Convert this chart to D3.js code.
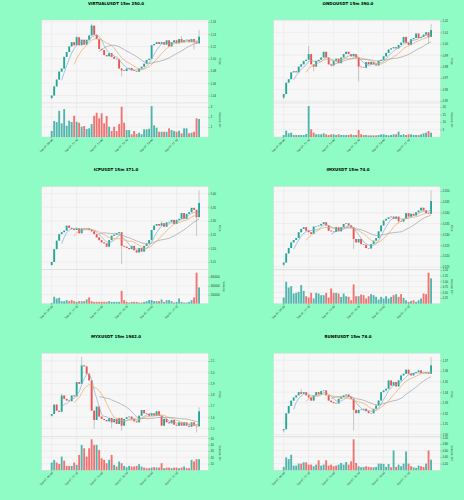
<!DOCTYPE html>
<html>
<head>
<meta charset="utf-8">
<script src="https://cdn.jsdelivr.net/npm/d3@7"></script>
<style>
  body { margin: 0; background: #8efcc4; }
  svg { display: block; font-family: "DejaVu Sans", sans-serif; }
</style>
</head>
<body>
<div class="chart"></div>
<script>
// ---- data (15m candles) ----
const xTickIdx = [0, 10, 20, 30, 40, 50];
const xTickLabels = ["Sep 07, 09:00", "Sep 07, 11:30", "Sep 07, 14:00", "Sep 07, 16:30", "Sep 07, 19:00", "Sep 07, 21:30"];
const maPeriods = [5, 10, 20];

const virtualOpen0 = 1.036;
const virtualClose = [1.040,1.055,1.066,1.079,1.084,1.103,1.111,1.120,1.127,1.122,
  1.135,1.122,1.131,1.123,1.131,1.138,1.154,1.139,1.132,1.116,
  1.114,1.106,1.104,1.109,1.103,1.100,1.099,1.084,1.081,1.080,
  1.084,1.085,1.081,1.080,1.079,1.084,1.087,1.092,1.098,1.100,
  1.122,1.124,1.127,1.124,1.127,1.123,1.130,1.120,1.127,1.130,
  1.125,1.132,1.127,1.130,1.131,1.127,1.132,1.127,1.125,1.136];
const virtualVolume = [60000,160000,150000,263000,137000,280000,113000,163000,150000,213000,
  153000,143000,103000,110000,80000,87000,130000,213000,243000,187000,
  237000,137000,210000,103000,60000,103000,60000,130000,303000,143000,
  70000,70000,27000,60000,30000,43000,27000,77000,77000,83000,
  310000,117000,93000,53000,53000,53000,53000,87000,70000,60000,
  53000,63000,37000,87000,87000,37000,43000,53000,187000,180000];
const virtualHighs = [[10,1.137],[16,1.157],[52,1.137],[59,1.147]];
const virtualLows = [[0,1.034],[28,1.071],[57,1.115]];
const virtualTicks = [1.04,1.06,1.08,1.10,1.12,1.14,1.16];

const ondoOpen0 = 0.953;
const ondoClose = [0.956,0.966,0.969,0.975,0.976,0.975,0.980,0.982,0.985,0.986,
  0.991,0.982,0.980,0.985,0.986,0.988,0.993,0.988,0.982,0.981,
  0.985,0.987,0.983,0.988,0.991,0.993,0.991,0.989,0.991,0.988,
  0.980,0.9795,0.979,0.984,0.982,0.984,0.982,0.981,0.985,0.986,
  0.989,0.992,0.995,0.996,0.997,0.996,0.999,1.001,1.006,1.001,
  0.999,1.004,1.005,1.009,1.005,1.006,1.008,1.010,1.006,1.012];
const ondoVolume = [133000,422000,244000,289000,133000,133000,133000,133000,133000,200000,
  2060000,511000,289000,178000,178000,178000,244000,178000,133000,178000,
  178000,133000,178000,133000,133000,133000,133000,178000,133000,133000,
  466000,178000,133000,133000,111000,111000,111000,111000,133000,178000,
  178000,133000,111000,133000,178000,178000,355000,133000,178000,133000,
  178000,178000,133000,133000,133000,178000,244000,289000,400000,289000];
const ondoHighs = [[10,0.998],[59,1.0175]];
const ondoLows = [[0,0.9515],[12,0.976],[30,0.967],[58,1.000]];
const ondoTicks = [0.95,0.96,0.97,0.98,0.99,1.00,1.01,1.02];

const icpOpen0 = 5.139;
const icpClose = [5.150,5.197,5.228,5.252,5.259,5.265,5.283,5.275,5.271,5.267,
  5.273,5.255,5.273,5.271,5.273,5.267,5.262,5.252,5.240,5.230,
  5.222,5.218,5.206,5.230,5.246,5.250,5.255,5.259,5.209,5.206,
  5.201,5.197,5.209,5.193,5.185,5.201,5.188,5.209,5.218,5.230,
  5.267,5.283,5.289,5.283,5.292,5.279,5.295,5.297,5.304,5.289,
  5.304,5.308,5.329,5.308,5.326,5.332,5.348,5.341,5.314,5.366];
const icpVolume = [15000,154000,115000,131000,54000,54000,77000,54000,77000,54000,
  38000,54000,54000,54000,92000,138000,54000,38000,38000,38000,
  38000,38000,38000,54000,38000,38000,38000,38000,285000,77000,
  38000,23000,38000,38000,38000,23000,23000,38000,54000,77000,
  77000,54000,54000,54000,92000,38000,77000,77000,54000,23000,
  38000,115000,38000,23000,23000,38000,77000,138000,692000,362000];
const icpHighs = [[44,5.300],[59,5.412]];
const icpLows = [[0,5.136],[28,5.142],[58,5.246]];
const icpTicks = [5.15,5.20,5.25,5.30,5.35,5.40];

const imxOpen0 = 0.5160;
const imxClose = [0.5170,0.5212,0.5237,0.5263,0.5274,0.5283,0.5310,0.5325,0.5333,0.5317,
  0.5310,0.5302,0.5336,0.5338,0.5341,0.5348,0.5356,0.5341,0.5317,0.5314,
  0.5312,0.5333,0.5314,0.5333,0.5348,0.5351,0.5341,0.5333,0.5279,0.5263,
  0.5279,0.5255,0.5252,0.5237,0.5235,0.5255,0.5271,0.5283,0.5314,0.5341,
  0.5364,0.5372,0.5379,0.5382,0.5372,0.5382,0.5361,0.5359,0.5372,0.5398,
  0.5382,0.5395,0.5387,0.5402,0.5410,0.5423,0.5410,0.5398,0.5395,0.5454];
const imxVolume = [269000,973000,718000,778000,449000,479000,524000,823000,569000,329000,
  269000,479000,225000,479000,449000,374000,374000,479000,269000,674000,
  479000,479000,449000,299000,449000,329000,299000,150000,853000,329000,
  329000,404000,374000,225000,329000,419000,374000,299000,180000,299000,
  225000,329000,225000,299000,374000,419000,299000,419000,254000,150000,
  75000,120000,150000,75000,150000,225000,449000,419000,1377000,1123000];
const imxHighs = [[59,0.5503]];
const imxLows = [[0,0.5155],[28,0.5232],[46,0.5350]];
const imxTicks = [0.515,0.520,0.525,0.530,0.535,0.540,0.545,0.550];

const myxOpen0 = 1.613;
const myxClose = [1.628,1.712,1.658,1.648,1.793,1.763,1.748,1.742,1.793,1.785,
  1.912,1.897,2.061,2.052,1.987,1.927,1.658,1.575,1.694,1.605,
  1.584,1.575,1.563,1.593,1.554,1.584,1.539,1.593,1.524,1.584,
  1.599,1.605,1.584,1.563,1.554,1.613,1.664,1.634,1.628,1.613,
  1.634,1.613,1.652,1.613,1.524,1.584,1.554,1.545,1.575,1.533,
  1.524,1.554,1.524,1.554,1.524,1.515,1.554,1.524,1.518,1.652];
const myxVolume = [1190000,1610000,1190000,980000,2120000,1500000,670000,670000,670000,1190000,
  830000,2380000,3940000,3420000,2120000,3420000,4820000,3940000,3940000,3160000,
  1860000,1610000,1090000,1610000,2380000,830000,570000,1350000,1090000,670000,
  470000,670000,570000,570000,670000,930000,570000,410000,310000,310000,
  410000,470000,410000,410000,1090000,310000,410000,410000,310000,410000,
  410000,310000,410000,570000,310000,310000,1610000,1350000,1710000,1710000];
const myxHighs = [[4,1.810],[12,2.136],[59,1.688]];
const myxLows = [[0,1.605],[17,1.494],[24,1.500],[28,1.479],[58,1.464]];
const myxTicks = [1.5,1.6,1.7,1.8,1.9,2.0,2.1];

const runeOpen0 = 1.304;
const runeClose = [1.305,1.320,1.327,1.332,1.335,1.337,1.340,1.3385,1.340,1.337,
  1.335,1.332,1.337,1.340,1.338,1.341,1.3416,1.337,1.332,1.3306,
  1.3296,1.3293,1.3337,1.3353,1.3369,1.3378,1.3353,1.3337,1.3233,1.3202,
  1.3233,1.3235,1.3243,1.322,1.3202,1.3200,1.3243,1.3274,1.3321,1.340,
  1.3416,1.3432,1.3511,1.3463,1.3495,1.3454,1.3511,1.3558,1.3574,1.3612,
  1.3574,1.3558,1.358,1.359,1.3605,1.358,1.3578,1.359,1.3574,1.3653];
const runeVolume = [100000,390000,340000,470000,140000,140000,200000,200000,240000,240000,
  170000,170000,120000,170000,300000,140000,170000,300000,140000,170000,
  120000,140000,170000,220000,170000,250000,170000,270000,940000,220000,
  120000,90000,100000,120000,100000,90000,90000,100000,200000,200000,
  190000,100000,190000,90000,600000,100000,170000,120000,200000,570000,
  200000,120000,90000,70000,140000,120000,100000,200000,600000,320000];
const runeHighs = [[7,1.343],[59,1.3732]];
const runeLows = [[0,1.302],[28,1.3037]];
const runeTicks = [1.30,1.31,1.32,1.33,1.34,1.35,1.36,1.37];

const panels = [
  { title: "VIRTUALUSDT 15m 250.0", open0: virtualOpen0, close: virtualClose, volume: virtualVolume, highs: virtualHighs, lows: virtualLows, ticks: virtualTicks, fmt: ".2f", volTicks: [1e5, 2e5, 3e5], volExp: 5 },
  { title: "ONDOUSDT 15m 390.0", open0: ondoOpen0, close: ondoClose, volume: ondoVolume, highs: ondoHighs, lows: ondoLows, ticks: ondoTicks, fmt: ".2f", volTicks: [5e5, 10e5, 15e5, 20e5], volExp: 5 },
  { title: "ICPUSDT 15m 371.0", open0: icpOpen0, close: icpClose, volume: icpVolume, highs: icpHighs, lows: icpLows, ticks: icpTicks, fmt: ".2f", volTicks: [200000, 400000, 600000], volExp: 0 },
  { title: "IMXUSDT 15m 74.0", open0: imxOpen0, close: imxClose, volume: imxVolume, highs: imxHighs, lows: imxLows, ticks: imxTicks, fmt: ".3f", volTicks: [0.25e6, 0.5e6, 0.75e6, 1e6, 1.25e6, 1.5e6], volExp: 6 },
  { title: "MYXUSDT 15m 1982.0", open0: myxOpen0, close: myxClose, volume: myxVolume, highs: myxHighs, lows: myxLows, ticks: myxTicks, fmt: ".1f", volTicks: [1e6, 2e6, 3e6, 4e6, 5e6], volExp: 5 },
  { title: "RUNEUSDT 15m 78.0", open0: runeOpen0, close: runeClose, volume: runeVolume, highs: runeHighs, lows: runeLows, ticks: runeTicks, fmt: ".2f", volTicks: [0.2e6, 0.4e6, 0.6e6, 0.8e6, 1e6], volExp: 6 }
];

const upColor = "#26a69a", downColor = "#ef5350";
const maColors = ["#7fb0cf", "#f2a65e", "#a0a0a8"];
const supers = { 5: "\u2075", 6: "\u2076" };

const svgWidth = 464, svgHeight = 500;
const svg = d3.select(".chart").append("svg")
  .attr("width", svgWidth)
  .attr("height", svgHeight);

const plotW = 166.6, priceH = 83, volH = 34;

function styleAxis(ax) {
  ax.select(".domain").remove();
  ax.selectAll("line").attr("stroke", "#555").attr("stroke-width", 0.3);
  ax.selectAll("text").attr("font-size", "2.7px").attr("fill", "#333");
}

panels.forEach((p, i) => {
  const col = i % 2, row = Math.floor(i / 2);
  const left = 41.7 + col * 232;
  const top = 20 + row * 166.6;
  const volTop = top + priceH, volBottom = volTop + volH;
  const n = p.close.length;

  const open = p.close.map((c, k) => k === 0 ? p.open0 : p.close[k - 1]);
  const high = p.close.map((c, k) => Math.max(open[k], c));
  const low = p.close.map((c, k) => Math.min(open[k], c));
  p.highs.forEach(([k, v]) => { high[k] = v; });
  p.lows.forEach(([k, v]) => { low[k] = v; });

  const g = svg.append("g");

  // title
  g.append("text")
    .attr("x", 116 + col * 232)
    .attr("y", 4.8 + row * 166.6)
    .attr("text-anchor", "middle")
    .attr("font-size", "4px")
    .attr("font-weight", "bold")
    .text(p.title);

  // scales
  const x = d3.scaleLinear().domain([-4, n + 2.7]).range([left, left + plotW]);
  const lo = d3.min(low), hi = d3.max(high), pad = (hi - lo) * 0.05;
  const y = d3.scaleLinear().domain([lo - pad, hi + pad]).range([volTop, top]);
  const yv = d3.scaleLinear().domain([0, d3.max(p.volume) * 1.1]).range([volBottom, volTop]);

  // panel backgrounds
  [[top, priceH], [volTop, volH]].forEach(([t, h]) => {
    g.append("rect")
      .attr("x", left).attr("y", t)
      .attr("width", plotW).attr("height", h)
      .attr("fill", "#f7f7f7")
      .attr("stroke", "#d6d6d6")
      .attr("stroke-width", 0.4);
  });

  // grid
  const grid = g.append("g").attr("stroke", "#dedede").attr("stroke-width", 0.35);
  xTickIdx.forEach(k => {
    grid.append("line").attr("x1", x(k)).attr("x2", x(k)).attr("y1", top).attr("y2", volBottom);
  });
  p.ticks.forEach(t => {
    grid.append("line").attr("x1", left).attr("x2", left + plotW).attr("y1", y(t)).attr("y2", y(t));
  });
  p.volTicks.forEach(t => {
    grid.append("line").attr("x1", left).attr("x2", left + plotW).attr("y1", yv(t)).attr("y2", yv(t));
  });

  const idx = d3.range(n);
  const bw = (x(1) - x(0)) * 0.75;

  // wicks
  g.append("g").selectAll("line")
    .data(idx)
    .enter()
    .append("line")
    .attr("x1", k => x(k)).attr("x2", k => x(k))
    .attr("y1", k => y(high[k])).attr("y2", k => y(low[k]))
    .attr("stroke", "#8a8a8a")
    .attr("stroke-width", 0.45);

  // bodies
  g.append("g").selectAll("rect")
    .data(idx)
    .enter()
    .append("rect")
    .attr("x", k => x(k) - bw / 2)
    .attr("width", bw)
    .attr("y", k => y(Math.max(open[k], p.close[k])))
    .attr("height", k => Math.max(0.5, Math.abs(y(open[k]) - y(p.close[k]))))
    .attr("fill", k => p.close[k] >= open[k] ? upColor : downColor);

  // moving averages
  maPeriods.forEach((m, j) => {
    const pts = idx.filter(k => k >= m - 1).map(k => [k, d3.mean(p.close.slice(k - m + 1, k + 1))]);
    g.append("path")
      .datum(pts)
      .attr("fill", "none")
      .attr("stroke", maColors[j])
      .attr("stroke-width", 0.7)
      .attr("d", d3.line().x(d => x(d[0])).y(d => y(d[1])));
  });

  // volume bars
  g.append("g").selectAll("rect")
    .data(idx)
    .enter()
    .append("rect")
    .attr("x", k => x(k) - bw / 2)
    .attr("width", bw)
    .attr("y", k => yv(p.volume[k]))
    .attr("height", k => volBottom - yv(p.volume[k]))
    .attr("fill", k => p.close[k] >= open[k] ? upColor : downColor)
    .attr("fill-opacity", 0.8);

  // right axes
  const pa = g.append("g")
    .attr("transform", `translate(${left + plotW}, 0)`)
    .call(d3.axisRight(y).tickValues(p.ticks).tickSize(1.5).tickPadding(1).tickFormat(d3.format(p.fmt)));
  styleAxis(pa);

  const va = g.append("g")
    .attr("transform", `translate(${left + plotW}, 0)`)
    .call(d3.axisRight(yv).tickValues(p.volTicks).tickSize(1.5).tickPadding(1)
      .tickFormat(d => p.volExp ? d3.format("~g")(+(d / Math.pow(10, p.volExp)).toFixed(2)) : d));
  styleAxis(va);
  if (p.volExp === 6) va.selectAll("text").text(d => d3.format(".2f")(d / 1e6));

  // axis labels
  g.append("text")
    .attr("transform", `translate(${left + plotW + 11}, ${top + priceH / 2}) rotate(90)`)
    .attr("text-anchor", "middle")
    .attr("font-size", "2.7px")
    .attr("fill", "#333")
    .text("Price");

  g.append("text")
    .attr("transform", `translate(${left + plotW + (p.volExp ? 11 : 15)}, ${volTop + volH / 2}) rotate(90)`)
    .attr("text-anchor", "middle")
    .attr("font-size", "2.7px")
    .attr("fill", "#333")
    .text(p.volExp ? `Volume  10${supers[p.volExp]}` : "Volume");

  // x tick labels
  xTickIdx.forEach((k, j) => {
    g.append("line")
      .attr("x1", x(k)).attr("x2", x(k))
      .attr("y1", volBottom).attr("y2", volBottom + 1.5)
      .attr("stroke", "#555").attr("stroke-width", 0.3);
    g.append("text")
      .attr("transform", `translate(${x(k) + 1.5}, ${volBottom + 3}) rotate(-45)`)
      .attr("text-anchor", "end")
      .attr("font-size", "2.5px")
      .attr("fill", "#333")
      .text(xTickLabels[j]);
  });
});
</script>
</body>
</html>
